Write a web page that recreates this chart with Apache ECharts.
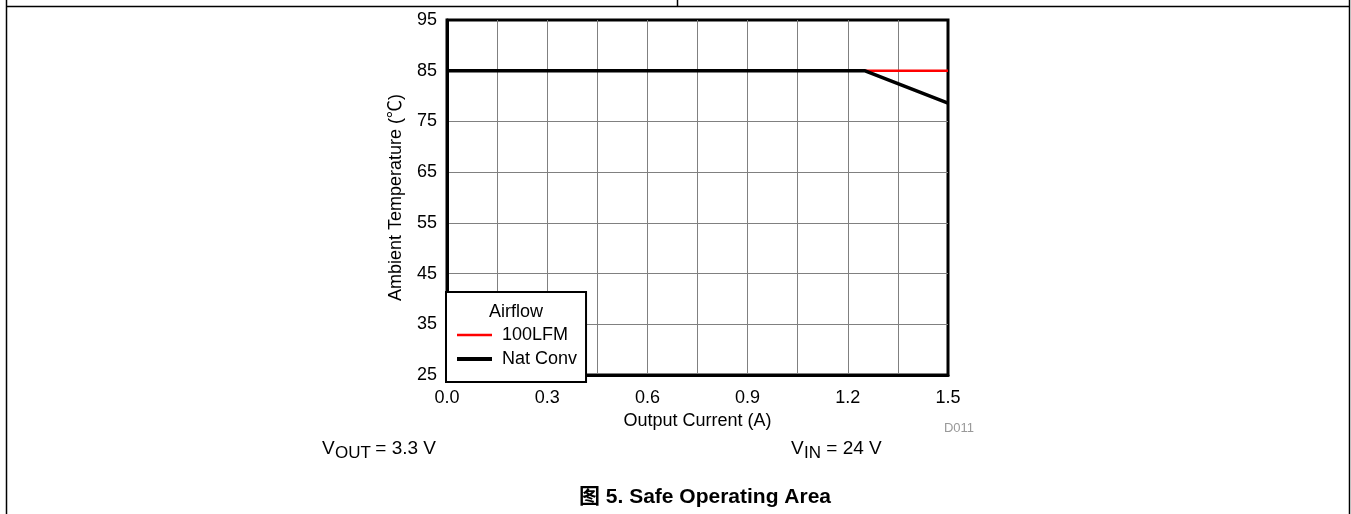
<!DOCTYPE html>
<html>
<head>
<meta charset="utf-8">
<script src="https://cdn.jsdelivr.net/npm/echarts@6/dist/echarts.min.js"></script>
<style>html,body{margin:0;padding:0;background:#fff;}#c{width:1351px;height:514px;}</style>
</head>
<body>
<div id="c"></div>
<script>
// ---- data ----
const seriesNames = ['100LFM', 'Nat Conv'];
const lfm100 = [[0, 85], [1.5, 85]];
const natConv = [[0, 85], [1.25, 85], [1.5, 78.6]];
const xTickStep = 0.15;   // grid line step
const xLabelStep = 0.3;   // label step
const yMin = 25, yMax = 95, yStep = 10;
const xMin = 0, xMax = 1.5;

const FONT = '"Liberation Sans", Arial, "Noto Sans CJK SC", sans-serif';
const chart = echarts.init(document.getElementById('c'), null, {renderer: 'canvas'});

const option = {
  backgroundColor: '#fff',
  animation: false,
  textStyle: {fontFamily: FONT, color: '#000'},
  grid: {
    left: 447, right: 403, top: 20, bottom: 139,
    show: true, borderColor: '#000', borderWidth: 3, backgroundColor: 'transparent'
  },
  xAxis: {
    type: 'value', min: xMin, max: xMax, interval: xTickStep,
    name: 'Output Current (A)', nameLocation: 'middle', nameGap: 35,
    nameTextStyle: {fontSize: 18, color: '#000', fontFamily: FONT},
    axisLine: {show: true, lineStyle: {color: '#000', width: 3}},
    axisTick: {show: false},
    axisLabel: {
      margin: 14, fontSize: 18, color: '#000', fontFamily: FONT,
      showMinLabel: true, showMaxLabel: true,
      formatter: function (v) {
        const k = Math.round(v / xTickStep);
        return (k % Math.round(xLabelStep / xTickStep) === 0) ? v.toFixed(1) : '';
      }
    },
    splitLine: {show: true, showMinLine: false, showMaxLine: false, lineStyle: {color: '#808080', width: 1}}
  },
  yAxis: {
    type: 'value', min: yMin, max: yMax, interval: yStep,
    name: 'Ambient Temperature (\u2103)', nameLocation: 'middle', nameGap: 42,
    nameTextStyle: {fontSize: 18, color: '#000', fontFamily: FONT},
    axisLine: {show: true, lineStyle: {color: '#000', width: 3}},
    axisTick: {show: false},
    axisLabel: {margin: 10, fontSize: 18, color: '#000', fontFamily: FONT},
    splitLine: {show: true, showMinLine: false, showMaxLine: false, lineStyle: {color: '#808080', width: 1}}
  },
  legend: {
    orient: 'vertical', left: 446, top: 292,
    data: [
      {name: seriesNames[0], lineStyle: {width: 2.5, color: '#ff0000'}},
      {name: seriesNames[1], lineStyle: {width: 4, color: '#000000'}}
    ],
    backgroundColor: '#fff', borderColor: '#000', borderWidth: 2, borderRadius: 0,
    padding: [34, 9, 14, 9],
    itemWidth: 35, itemHeight: 14, itemGap: 6,
    itemStyle: {opacity: 0, borderWidth: 0},
    textStyle: {fontSize: 18, color: '#000', fontFamily: FONT, padding: [0, 0, 0, 5]},
    z: 10
  },
  series: [
    {
      name: seriesNames[0], type: 'line', data: lfm100, symbol: 'none', showSymbol: false,
      lineStyle: {color: '#ff0000', width: 2.5}, itemStyle: {color: '#ff0000'}, z: 3
    },
    {
      name: seriesNames[1], type: 'line', data: natConv, symbol: 'none', showSymbol: false,
      lineStyle: {color: '#000000', width: 3.5}, itemStyle: {color: '#000000'}, z: 4
    }
  ],
  graphic: [
    {type: 'line', z: 100, shape: {x1: 6, y1: 6.5, x2: 1350, y2: 6.5}, style: {stroke: '#000', lineWidth: 1.5}},
    {type: 'line', z: 100, shape: {x1: 6.5, y1: 0, x2: 6.5, y2: 514}, style: {stroke: '#000', lineWidth: 1.5}},
    {type: 'line', z: 100, shape: {x1: 1349.5, y1: 0, x2: 1349.5, y2: 514}, style: {stroke: '#000', lineWidth: 1.5}},
    {type: 'line', z: 100, shape: {x1: 677.5, y1: 0, x2: 677.5, y2: 6}, style: {stroke: '#000', lineWidth: 1.5}},
    {type: 'text', z: 100, x: 516, y: 312, style: {text: 'Airflow', font: '18px ' + FONT, fill: '#000', align: 'center', verticalAlign: 'middle'}},
    {type: 'text', z: 100, x: 959, y: 428, style: {text: 'D011', font: '13px ' + FONT, fill: '#999', align: 'center', verticalAlign: 'middle'}},
    {type: 'text', z: 100, x: 322, y: 449, style: {text: 'V', font: '19px ' + FONT, fill: '#000', align: 'left', verticalAlign: 'middle'}},
    {type: 'text', z: 100, x: 335, y: 453, style: {text: 'OUT', font: '17px ' + FONT, fill: '#000', align: 'left', verticalAlign: 'middle'}},
    {type: 'text', z: 100, x: 370, y: 449, style: {text: ' = 3.3 V', font: '19px ' + FONT, fill: '#000', align: 'left', verticalAlign: 'middle'}},
    {type: 'text', z: 100, x: 791, y: 449, style: {text: 'V', font: '19px ' + FONT, fill: '#000', align: 'left', verticalAlign: 'middle'}},
    {type: 'text', z: 100, x: 804, y: 453, style: {text: 'IN', font: '17px ' + FONT, fill: '#000', align: 'left', verticalAlign: 'middle'}},
    {type: 'text', z: 100, x: 821, y: 449, style: {text: ' = 24 V', font: '19px ' + FONT, fill: '#000', align: 'left', verticalAlign: 'middle'}},
    {type: 'text', z: 100, x: 705, y: 497, style: {text: '图 5. Safe Operating Area', font: 'bold 21px ' + FONT, fill: '#000', align: 'center', verticalAlign: 'middle'}}
  ]
};
chart.setOption(option);
</script>
</body>
</html>
